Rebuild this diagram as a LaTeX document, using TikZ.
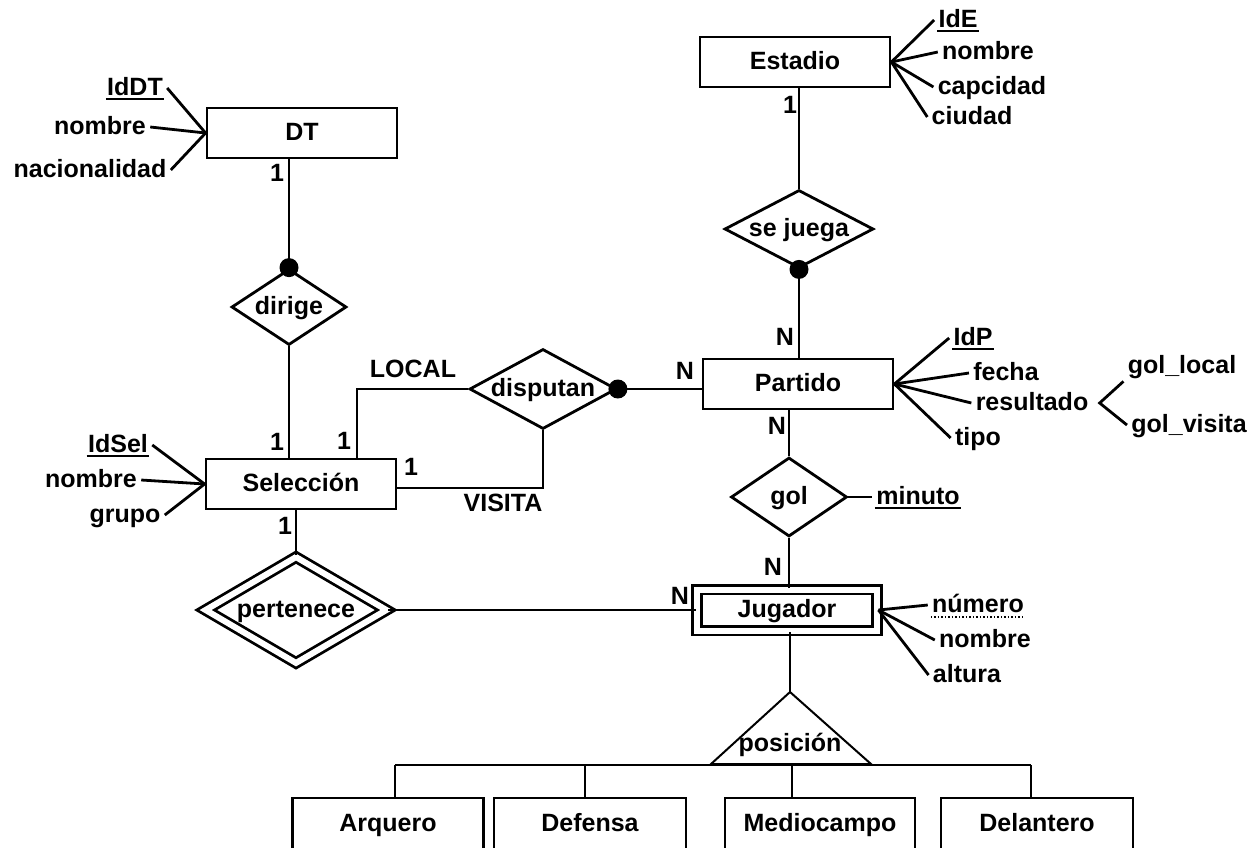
\documentclass[tikz,border=0pt]{standalone}
\usepackage{fontspec}
\setmainfont{Liberation Sans}
\usetikzlibrary{shapes.geometric}

\begin{document}
\begin{tikzpicture}[x=1pt,y=-1pt,line width=2.8pt,
  every node/.style={font=\bfseries\fontsize{25}{30}\selectfont,text height=18pt,text depth=4pt,inner sep=3pt},
  entidad/.style={draw,rectangle,minimum width=190pt,minimum height=50pt},
  debil/.style={draw,rectangle,double,double distance=6pt,minimum width=180pt,minimum height=41pt},
  rel/.style={draw,diamond,inner sep=0pt},
  sub/.style={line width=1.5pt}]
\useasboundingbox (0,0) rectangle (1260,847);

% entidades
\node[entidad] (dt) at (302,133) {DT};
\node[entidad] (estadio) at (795,62) {Estadio};
\node[entidad] (partido) at (798,384) {Partido};
\node[entidad] (seleccion) at (301,484) {Selección};
\node[debil] (jugador) at (787,610) {Jugador};
\node[entidad,minimum width=191pt,minimum height=52pt] (arquero) at (388,824) {Arquero};
\node[entidad,minimum width=192pt,minimum height=52pt] (defensa) at (590,824) {Defensa};
\node[entidad,minimum width=190pt,minimum height=52pt] (medio) at (820,824) {Mediocampo};
\node[entidad,minimum width=192pt,minimum height=52pt] (delantero) at (1037,824) {Delantero};

% relaciones
\node[rel,aspect=1.5,minimum width=115pt,minimum height=76pt] (dirige) at (289,307) {dirige};
\node[rel,aspect=1.9,minimum width=149pt,minimum height=78pt] (sejuega) at (799,229) {se juega};
\node[rel,aspect=1.84,minimum width=147pt,minimum height=80pt] (disputan) at (543,389) {disputan};
\node[rel,aspect=1.5,minimum width=116pt,minimum height=79pt] (gol) at (789,497) {gol};
\node[rel,double,double distance=6pt,aspect=1.7,minimum width=182pt,minimum height=107pt] (pertenece) at (296,610) {pertenece};

\draw (dirige.north) -- (dirige.north |- dt.south);
\draw (dirige.south) -- (dirige.south |- seleccion.north);
\draw (sejuega.north) -- (sejuega.north |- estadio.south);
\draw (sejuega.south) -- (sejuega.south |- partido.north);
\draw (disputan.east) -- (disputan.east -| partido.west);
\draw (disputan.west) -| ([xshift=56pt]seleccion.north);
\draw (disputan.south) |- ([yshift=-4pt]seleccion.east);
\draw (gol.north) -- (gol.north |- partido.south);
\draw (gol.south) -- (gol.south |- jugador.north);
\draw (pertenece.north) -- (pertenece.north |- seleccion.south);
\draw (pertenece.east) -- (pertenece.east -| jugador.west);
\fill (dirige.north) circle (9.5pt);
\fill (sejuega.south) circle (9.5pt);
\fill (disputan.east) circle (9.5pt);

% roles y cardinalidades
\node (local) at (413,370) {LOCAL};
\node (visita) at (503,504) {VISITA};
\node (cDT) at (277,174) {1};
\node (cEst) at (790,106) {1};
\node (cParA) at (785,338) {N};
\node (cParI) at (685,372) {N};
\node (cParB) at (777,427) {N};
\node (cJugA) at (773,568) {N};
\node (cJugI) at (680,597) {N};
\node (cSelA) at (277,443) {1};
\node (cSelB) at (344,442) {1};
\node (cSelD) at (411,468) {1};
\node (cSelC) at (285,527) {1};

% atributos
\node (idDT) at (135,88) {IdDT};
\node (nomDT) at (100,127) {nombre};
\node (nacDT) at (90,170) {nacionalidad};
\draw (idDT.east) -- (dt.west);
\draw (nomDT.east) -- (dt.west);
\draw (nacDT.east) -- (dt.west);
\draw[sub] ([xshift=3pt,yshift=-4pt]idDT.base west) -- ([xshift=-3pt,yshift=-4pt]idDT.base east);

\node (idE) at (958,20) {IdE};
\node (nomE) at (988,52) {nombre};
\node (capE) at (992,87) {capcidad};
\node (ciuE) at (972,117) {ciudad};
\foreach \a in {idE,nomE,capE,ciuE} \draw (\a.west) -- (estadio.east);
\draw[sub] ([xshift=3pt,yshift=-4pt]idE.base west) -- ([xshift=-3pt,yshift=-4pt]idE.base east);

\node (idP) at (973,338) {IdP};
\node (fecha) at (1006,373) {fecha};
\node (resultado) at (1032,403) {resultado};
\node (tipo) at (978,438) {tipo};
\node (golL) at (1182,366) {gol\_local};
\node (golV) at (1189,425) {gol\_visita};
\foreach \a in {idP,fecha,resultado,tipo} \draw (\a.west) -- (partido.east);
\draw[sub] ([xshift=3pt,yshift=-4pt]idP.base west) -- ([xshift=-3pt,yshift=-4pt]idP.base east);
\coordinate (res) at ([xshift=7pt]resultado.east);
\draw (golL.south west) -- (res) -- (golV.west);

\node (idSel) at (118,445) {IdSel};
\node (nomS) at (91,480) {nombre};
\node (grupo) at (125,515) {grupo};
\foreach \a in {idSel,nomS,grupo} \draw (\a.east) -- (seleccion.west);
\draw[sub] ([xshift=3pt,yshift=-4pt]idSel.base west) -- ([xshift=-3pt,yshift=-4pt]idSel.base east);

\node (minuto) at (918,497) {minuto};
\draw (gol.east) -- (minuto.west);
\draw[sub] ([xshift=3pt,yshift=-4pt]minuto.base west) -- ([xshift=-3pt,yshift=-4pt]minuto.base east);

\node (numero) at (978,605) {número};
\node (nomJ) at (985,640) {nombre};
\node (altura) at (967,675) {altura};
\foreach \a in {numero,nomJ,altura} \draw (\a.west) -- (jugador.east);
\draw[sub,dotted] ([xshift=3pt,yshift=-5pt]numero.base west) -- ([xshift=-3pt,yshift=-5pt]numero.base east);

% especializacion
\coordinate (tri) at (790,692);
\draw[line width=2pt] (tri) -- (711,764) -- (871,764) -- cycle;
\node (posicion) at (790,744) {posición};
\draw (tri) -- (tri |- jugador.south);
\coordinate (b1) at (395,765);
\coordinate (b2) at (585,765);
\coordinate (b3) at (792,765);
\coordinate (b4) at (1031,765);
\draw (b1) -- (b4);
\draw (b1) -- (b1 |- arquero.north);
\draw (b2) -- (b2 |- defensa.north);
\draw (b3) -- (b3 |- medio.north);
\draw (b4) -- (b4 |- delantero.north);
\end{tikzpicture}
\end{document}
